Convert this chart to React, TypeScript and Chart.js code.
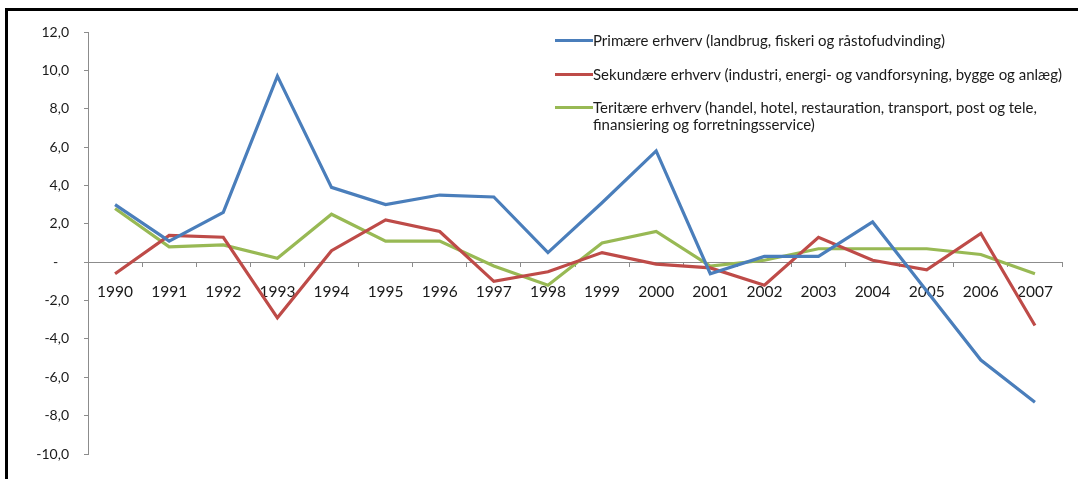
import React, { useEffect, useRef } from "react";
import { Chart, registerables } from "chart.js";

Chart.register(...registerables);

const years = ["1990", "1991", "1992", "1993", "1994", "1995", "1996", "1997", "1998", "1999", "2000", "2001", "2002", "2003", "2004", "2005", "2006", "2007"];
const primary = [3.0, 1.1, 2.6, 9.7, 3.9, 3.0, 3.5, 3.4, 0.5, 3.1, 5.8, -0.6, 0.3, 0.3, 2.1, -1.5, -5.1, -7.3];
const secondary = [-0.6, 1.4, 1.3, -2.9, 0.6, 2.2, 1.6, -1.0, -0.5, 0.5, -0.1, -0.3, -1.2, 1.3, 0.1, -0.4, 1.5, -3.3];
const tertiary = [2.8, 0.8, 0.9, 0.2, 2.5, 1.1, 1.1, -0.2, -1.2, 1.0, 1.6, -0.2, 0.1, 0.7, 0.7, 0.7, 0.4, -0.6];

const seriesNames = [
  "Primære erhverv (landbrug, fiskeri og råstofudvinding)",
  "Sekundære erhverv (industri, energi- og vandforsyning, bygge og anlæg)",
  "Teritære erhverv (handel, hotel, restauration, transport, post og tele, finansiering og forretningsservice)",
];
const legendLines = [
  ["Primære erhverv (landbrug, fiskeri og råstofudvinding)"],
  ["Sekundære erhverv (industri, energi- og vandforsyning, bygge og anlæg)"],
  ["Teritære erhverv (handel, hotel, restauration, transport, post og tele,", "finansiering og forretningsservice)"],
];
const colors = ["#4A7EBB", "#BE4B48", "#98B954"];

const FONT = "Lato, 'Open Sans', sans-serif";

export default function App() {
  const ref = useRef<HTMLCanvasElement | null>(null);
  useEffect(() => {
    if (!ref.current) return;
    const chart = new Chart(ref.current, {
      type: "line",
      data: {
        labels: years,
        datasets: [primary, secondary, tertiary].map((d, i) => ({
          label: seriesNames[i],
          data: d,
          borderColor: colors[i],
          backgroundColor: colors[i],
          borderWidth: 3.2,
          pointRadius: 0,
          tension: 0,
        })),
      },
      options: {
        animation: false,
        responsive: false,
        maintainAspectRatio: false,
        layout: { padding: { left: 0, top: 32, right: 16, bottom: 25 } },
        plugins: { legend: { display: false }, tooltip: { enabled: false } },
        scales: {
          x: {
            position: { y: 0 } as any,
            offset: true,
            grid: { drawOnChartArea: false, offset: true, tickLength: 4, color: "#8C8C8C", lineWidth: 1 },
            border: { color: "#8C8C8C", width: 1 },
            ticks: { color: "#1A1A1A", font: { family: FONT, size: 15.5 }, padding: 17, maxRotation: 0, autoSkip: false },
          },
          y: {
            min: -10,
            max: 12,
            afterFit: (s: any) => { s.width = 88; },
            grid: { drawOnChartArea: false, tickLength: 4, color: "#8C8C8C", lineWidth: 1 },
            border: { color: "#8C8C8C", width: 1 },
            ticks: {
              stepSize: 2,
              color: "#1A1A1A",
              padding: 15,
              font: { family: FONT, size: 14 },
              callback: (v: any) => (Number(v) === 0 ? "-   " : Number(v).toFixed(1).replace(".", ",")),
            },
          },
        },
      },
    });
    return () => chart.destroy();
  }, []);

  return (
    <div style={{ position: "absolute", left: 0, top: 0, width: 1078, height: 479, background: "#fff", overflow: "hidden" }}>
      <canvas ref={ref} width={1078} height={479} style={{ position: "absolute", left: 0, top: 0, width: 1078, height: 479 }} />
      <div style={{ position: "absolute", left: 5, top: 8, width: 1073, height: 471, boxSizing: "border-box", borderTop: "3px solid #000", borderLeft: "3px solid #000" }} />
      {legendLines.map((lines, i) => {
        const top = [32, 66, 99][i];
        return (
          <div key={i} style={{ position: "absolute", left: 555, top, fontFamily: FONT, fontSize: 15, color: "#1A1A1A", lineHeight: "17px", whiteSpace: "nowrap" }}>
            <div style={{ position: "absolute", left: 0, top: 7, width: 38, height: 3, background: colors[i] }} />
            <div style={{ marginLeft: 38 }}>
              {lines.map((t, j) => (
                <div key={j}>{t}</div>
              ))}
            </div>
          </div>
        );
      })}
    </div>
  );
}
